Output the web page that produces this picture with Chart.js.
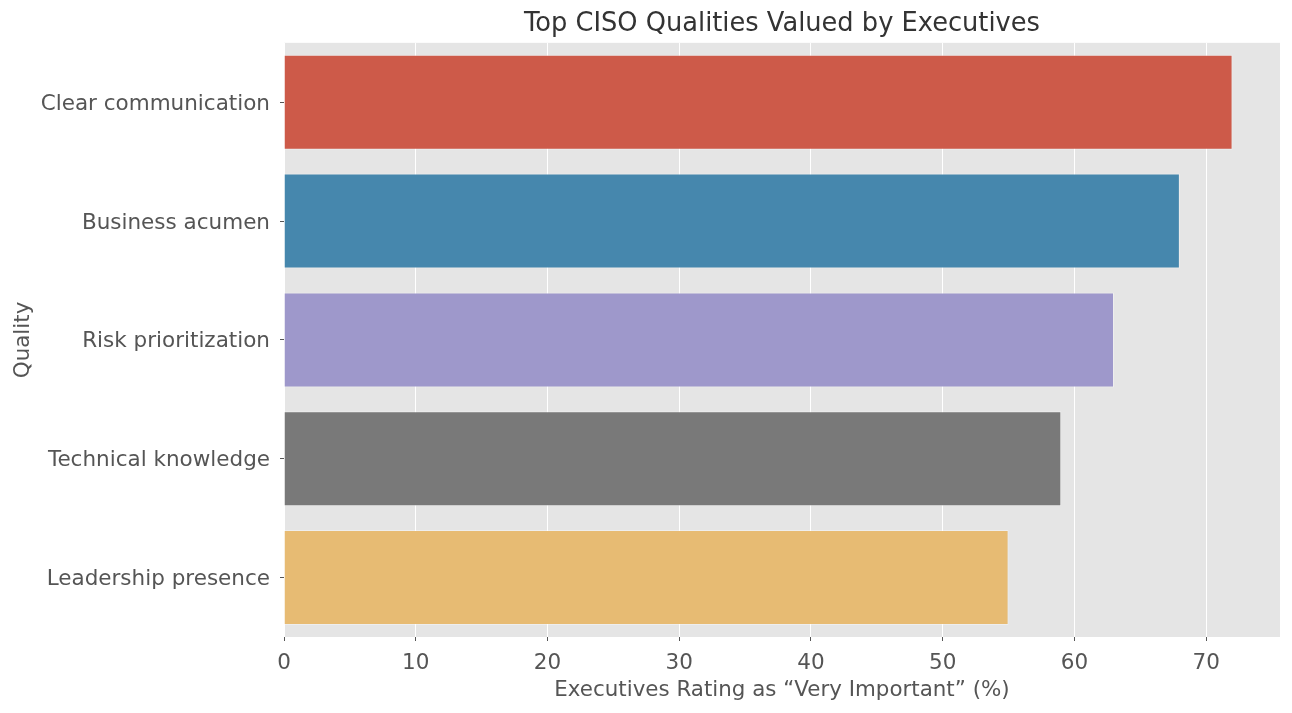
<!DOCTYPE html>
<html>
<head>
<meta charset="utf-8">
<script src="https://cdn.jsdelivr.net/npm/chart.js@4"></script>
<style>
  html, body { margin: 0; padding: 0; background: #ffffff; }
  #wrap { width: 1292px; height: 713px; }
</style>
</head>
<body>
<div id="wrap"><canvas id="c" width="1292" height="713"></canvas></div>
<script>
const categories = ["Clear communication", "Business acumen", "Risk prioritization", "Technical knowledge", "Leadership presence"];
const values = [72, 68, 63, 59, 55];
const barColors = ["#CD5A49", "#4687AD", "#9E98CB", "#797979", "#E7BB73"];
const xTicks = [0, 10, 20, 30, 40, 50, 60, 70];

const bgPlugin = {
  id: 'bg',
  beforeDraw(chart) {
    const { ctx, chartArea: a } = chart;
    ctx.save();
    ctx.fillStyle = '#E5E5E5';
    ctx.fillRect(a.left, a.top, a.right - a.left, a.bottom - a.top);
    ctx.restore();
  }
};

new Chart(document.getElementById('c'), {
  type: 'bar',
  data: {
    labels: categories,
    datasets: [{
      data: values,
      backgroundColor: barColors,
      borderColor: 'rgba(255,255,255,0.35)',
      borderWidth: 1,
      categoryPercentage: 0.8,
      barPercentage: 1.0
    }]
  },
  options: {
    indexAxis: 'y',
    responsive: false,
    animation: false,
    devicePixelRatio: 1,
    layout: { padding: { left: 0, right: 12, top: 0, bottom: 0 } },
    plugins: {
      legend: { display: false },
      tooltip: { enabled: false },
      title: {
        display: true,
        text: 'Top CISO Qualities Valued by Executives',
        fullSize: false,
        color: '#333333',
        font: { family: 'DejaVu Sans', size: 25.7, weight: 'normal' },
        padding: { top: 9, bottom: 3 }
      }
    },
    scales: {
      x: {
        type: 'linear',
        min: 0,
        max: 75.6,
        afterFit(s) { s.height = 76; },
        afterBuildTicks(s) { s.ticks = xTicks.map(v => ({ value: v })); },
        border: { display: false },
        grid: {
          color: '#FFFFFF',
          lineWidth: 1,
          tickColor: '#555555',
          tickLength: 4,
          drawOnChartArea: true
        },
        ticks: {
          color: '#555555',
          font: { family: 'DejaVu Sans', size: 21.5 },
          padding: 10
        },
        title: {
          display: true,
          text: 'Executives Rating as “Very Important” (%)',
          color: '#555555',
          font: { family: 'DejaVu Sans', size: 21.4 },
          padding: { top: 4, bottom: 10 }
        }
      },
      y: {
        afterFit(s) { s.width = 284; },
        border: { display: false },
        grid: {
          offset: false,
          color: 'transparent',
          tickColor: '#555555',
          tickLength: 4,
          drawOnChartArea: false
        },
        ticks: {
          color: '#555555',
          font: { family: 'DejaVu Sans', size: 21.5 },
          padding: 10,
          labelOffset: 2
        },
        title: {
          display: true,
          text: 'Quality',
          color: '#555555',
          font: { family: 'DejaVu Sans', size: 21.4 },
          padding: { top: 11, bottom: 4 }
        }
      }
    }
  },
  plugins: [bgPlugin]
});
</script>
</body>
</html>
